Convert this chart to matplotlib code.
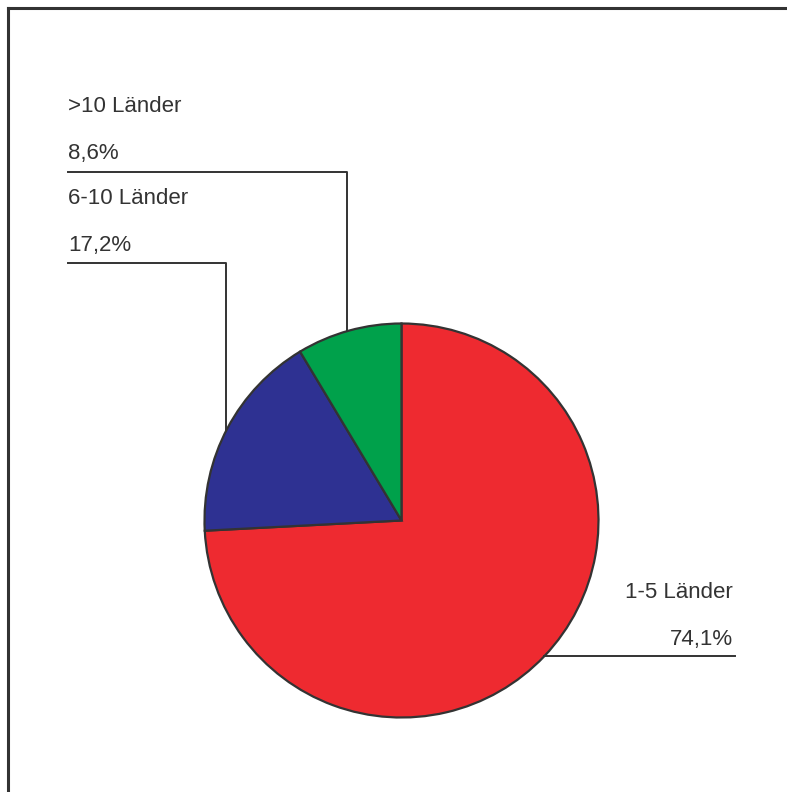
import numpy as np
import matplotlib.pyplot as plt
from matplotlib.lines import Line2D

# Anteil der Unternehmen nach Anzahl der Länder
categories = ["1-5 Länder", "6-10 Länder", ">10 Länder"]
shares = [74.1, 17.2, 8.6]
share_labels = ["74,1%", "17,2%", "8,6%"]
colors = ["#EE2A30", "#2E3192", "#00A14B"]

W, H = 787, 792
dark = "#333333"

plt.rcParams['font.family'] = ['Liberation Sans', 'DejaVu Sans']

fig = plt.figure(figsize=(W / 100, H / 100), dpi=100)
ax = fig.add_axes([0, 0, 1, 1])

cx, cy, r = 401.5, H - 520.5, 197
ax.pie(shares, colors=colors, startangle=90, counterclock=False,
       center=(cx, cy), radius=r, frame=True,
       wedgeprops=dict(edgecolor=dark, linewidth=1.6))
ax.set_xlim(0, W)
ax.set_ylim(0, H)
ax.set_aspect('equal')
ax.axis('off')

def edge_y(x, upper=True):
    dy = np.sqrt(r ** 2 - (x - cx) ** 2)
    return cy + dy if upper else cy - dy

fs = 16
# >10 Länder
ax.text(68, H - 107, categories[2], fontsize=fs, color=dark, va='center', ha='left')
ax.text(68, H - 154, share_labels[2], fontsize=fs, color=dark, va='center', ha='left')
ax.plot([68, 347, 347], [H - 172, H - 172, edge_y(347)], color=dark, lw=1.4)

# 6-10 Länder
ax.text(68, H - 198, categories[1], fontsize=fs, color=dark, va='center', ha='left')
ax.text(68, H - 245, share_labels[1], fontsize=fs, color=dark, va='center', ha='left')
ax.plot([68, 226, 226], [H - 263, H - 263, edge_y(226)], color=dark, lw=1.4)

# 1-5 Länder
ax.text(733, H - 593, categories[0], fontsize=fs, color=dark, va='center', ha='right')
ax.text(733, H - 639, share_labels[0], fontsize=fs, color=dark, va='center', ha='right')
yl = H - 656
xl = cx + np.sqrt(r ** 2 - (yl - cy) ** 2)
ax.plot([xl, 735], [yl, yl], color=dark, lw=1.4)

# Rahmen oben und links
fig.add_artist(Line2D([8 / W, 1], [1 - 8 / H, 1 - 8 / H], color=dark, lw=2.2,
                      transform=fig.transFigure))
fig.add_artist(Line2D([8 / W, 8 / W], [0, 1 - 8 / H], color=dark, lw=2.2,
                      transform=fig.transFigure))

fig.savefig("out.png", dpi=100)
